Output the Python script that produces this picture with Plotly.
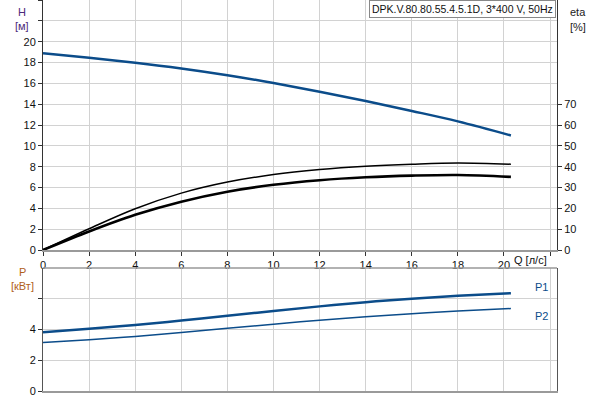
import plotly.graph_objects as go

# ---- data ----
q = [0, 2, 4, 6, 8, 10, 12, 14, 16, 18, 20.3]
head = [18.88, 18.45, 17.98, 17.43, 16.78, 16.03, 15.2, 14.3, 13.35, 12.35, 11.0]
eta_thin = [0, 10.2, 19.8, 27.3, 32.6, 36.2, 38.6, 40.2, 41.2, 41.8, 41.2]
eta_thick = [0, 8.9, 16.9, 23.2, 28.0, 31.3, 33.5, 34.9, 35.7, 36.0, 35.1]
p1 = [3.8, 4.02, 4.27, 4.55, 4.86, 5.17, 5.47, 5.74, 5.97, 6.15, 6.32]
p2 = [3.14, 3.32, 3.53, 3.78, 4.05, 4.32, 4.57, 4.8, 5.0, 5.17, 5.33]

h_ticks = [0, 2, 4, 6, 8, 10, 12, 14, 16, 18, 20, 22, 24]
h_labels = ["0", "2", "4", "6", "8", "10", "12", "14", "16", "18", "20", "", ""]
eta_ticks = [0, 10, 20, 30, 40, 50, 60, 70]
q_ticks = [0, 2, 4, 6, 8, 10, 12, 14, 16, 18, 20, 22]
q_labels = ["0", "2", "4", "6", "8", "10", "12", "14", "16", "18", "20", ""]
p_ticks = [0, 2, 4, 6, 8]
p_labels = ["0", "2", "4", "", ""]

title_text = "DPK.V.80.80.55.4.5.1D, 3*400 V, 50Hz"

BLUE = "#0b4c8a"
GRID = "#d2d2d2"
FONT = "Liberation Sans, Arial, sans-serif"

W, H = 600, 400
ML, MR, MT, MB = 43, 43, 0, 9
PW = W - ML - MR
PH = H - MT - MB


def px(x):
    return (x - ML) / PW


def py(y):
    return (H - MB - y) / PH


fig = go.Figure()
fig.add_trace(go.Scatter(x=q, y=head, mode="lines", line=dict(color=BLUE, width=2.5, shape="spline"),
                         xaxis="x", yaxis="y", hoverinfo="skip"))
fig.add_trace(go.Scatter(x=q, y=eta_thin, mode="lines", line=dict(color="black", width=1.5, shape="spline"),
                         xaxis="x", yaxis="y3", hoverinfo="skip"))
fig.add_trace(go.Scatter(x=q, y=eta_thick, mode="lines", line=dict(color="black", width=2.6, shape="spline"),
                         xaxis="x", yaxis="y3", hoverinfo="skip"))
fig.add_trace(go.Scatter(x=q, y=p1, mode="lines", line=dict(color=BLUE, width=2.5, shape="spline"),
                         xaxis="x2", yaxis="y2", hoverinfo="skip"))
fig.add_trace(go.Scatter(x=q, y=p2, mode="lines", line=dict(color=BLUE, width=1.5, shape="spline"),
                         xaxis="x2", yaxis="y2", hoverinfo="skip"))

top_dom = [py(250), 1.0]
bot_dom = [0.0, py(268)]
xr = [0, 22.3]

common_x = dict(range=xr, tickvals=q_ticks, showgrid=True, gridcolor=GRID, gridwidth=1,
                zeroline=False, showline=True, linecolor="#9a9a9a", linewidth=2,
                ticks="outside", ticklen=4, tickcolor="#333", fixedrange=True,
                tickfont=dict(family=FONT, size=11, color="#111"))

fig.update_layout(
    width=W, height=H,
    margin=dict(l=ML, r=MR, t=MT, b=MB, autoexpand=False),
    paper_bgcolor="white", plot_bgcolor="white",
    showlegend=False,
    font=dict(family=FONT, size=11, color="#111"),
    xaxis=dict(common_x, anchor="y", ticktext=q_labels),
    yaxis=dict(domain=top_dom, range=[0, 24], tickvals=h_ticks, ticktext=h_labels,
               showgrid=True, gridcolor=GRID, zeroline=False, showline=True,
               linecolor="#333", linewidth=1, ticks="outside", ticklen=4, tickcolor="#333",
               tickfont=dict(family=FONT, size=11, color="#111")),
    yaxis3=dict(overlaying="y", side="right", anchor="x", range=[0, 120], tickvals=eta_ticks,
                showgrid=False, zeroline=False, showline=True, linecolor="#333", linewidth=1,
                ticks="outside", ticklen=4, tickcolor="#333",
                tickfont=dict(family=FONT, size=11, color="#111")),
    xaxis2=dict(common_x, anchor="y2", showticklabels=False, ticks=""),
    yaxis2=dict(domain=bot_dom, range=[0, 7.95], tickvals=p_ticks, ticktext=p_labels,
                showgrid=True, gridcolor=GRID, zeroline=False, showline=True, mirror=True,
                linecolor="#555", linewidth=1, ticks="outside", ticklen=4, tickcolor="#333",
                tickfont=dict(family=FONT, size=11, color="#111")),
)

# top border of the power plot
fig.add_shape(type="line", xref="paper", yref="paper", x0=0, x1=1, y0=bot_dom[1], y1=bot_dom[1],
              line=dict(color="#999", width=1.5))

anns = [
    dict(text="H", x=px(22), y=py(12), color="#4b2a7a"),
    dict(text="[м]", x=px(22), y=py(26), color="#4b2a7a"),
    dict(text="eta", x=px(578), y=py(12), color="#222"),
    dict(text="[%]", x=px(578), y=py(27), color="#222"),
    dict(text="P", x=px(22), y=py(272), color="#b0601a"),
    dict(text="[кВт]", x=px(22), y=py(286), color="#b0601a"),
    dict(text="P1", x=px(541), y=py(287), color=BLUE),
    dict(text="P2", x=px(541), y=py(316), color=BLUE),
    dict(text="Q [л/с]", x=px(530), y=py(260), color="#111"),
]
for a in anns:
    fig.add_annotation(text=a["text"], x=a["x"], y=a["y"], xref="paper", yref="paper",
                       showarrow=False, xanchor="center", yanchor="middle",
                       font=dict(family=FONT, size=11, color=a["color"]))

fig.add_annotation(text=title_text, x=px(556), y=1.0, xref="paper", yref="paper",
                   showarrow=False, xanchor="right", yanchor="top",
                   bgcolor="white", bordercolor="#888", borderwidth=1, borderpad=2,
                   font=dict(family=FONT, size=10.5, color="#111"))

fig.write_html("out.html", config={"displayModeBar": False, "staticPlot": True},
               post_script="document.body.style.margin='0';document.body.style.overflow='hidden';")
